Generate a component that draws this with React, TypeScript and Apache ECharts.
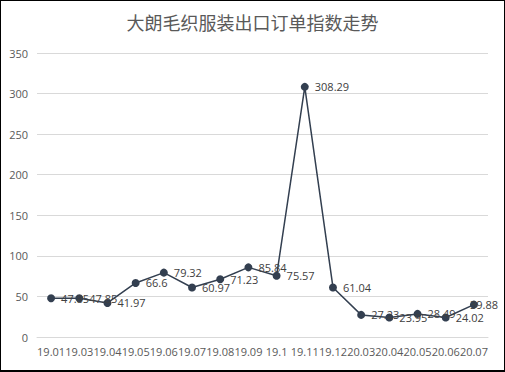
import React, { useEffect, useRef } from "react";
import * as echarts from "echarts";

const categories = ["19.01", "19.03", "19.04", "19.05", "19.06", "19.07", "19.08", "19.09", "19.1", "19.11", "19.12", "20.03", "20.04", "20.05", "20.06", "20.07"];
const values = [47.85, 47.85, 41.97, 66.6, 79.32, 60.97, 71.23, 85.84, 75.57, 308.29, 61.04, 27.23, 23.95, 28.49, 24.02, 39.88];
const yTicks = { min: 0, max: 350, interval: 50 };
const title = "大朗毛织服装出口订单指数走势";

export default function App() {
  const ref = useRef<HTMLDivElement>(null);
  useEffect(() => {
    document.body.style.margin = "0";
    const chart = echarts.init(ref.current!, null, { renderer: "svg" });
    const data = values.map((v, i) =>
      i === values.length - 1 ? { value: v, label: { offset: [-14, 0] } } : v
    );
    chart.setOption({
      animation: false,
      backgroundColor: "#ffffff",
      title: {
        text: title,
        left: "center",
        top: 7,
        textStyle: { fontFamily: "Noto Sans CJK SC", fontSize: 18, fontWeight: "normal", color: "#595959" },
      },
      grid: { left: 36, right: 16, top: 52, bottom: 33, containLabel: false },
      xAxis: {
        type: "category",
        data: categories,
        boundaryGap: true,
        axisLine: { show: true, lineStyle: { color: "#d9d9d9" } },
        axisTick: { show: false },
        axisLabel: { color: "#595959", fontSize: 11, fontFamily: "Open Sans", margin: 9, interval: 0 },
      },
      yAxis: {
        type: "value",
        min: yTicks.min,
        max: yTicks.max,
        interval: yTicks.interval,
        axisLine: { show: false },
        axisTick: { show: false },
        axisLabel: { color: "#595959", fontSize: 11, fontFamily: "Open Sans", margin: 9 },
        splitLine: { lineStyle: { color: "#d9d9d9" } },
      },
      series: [
        {
          type: "line",
          data,
          symbol: "circle",
          symbolSize: 8,
          itemStyle: { color: "#333f50" },
          lineStyle: { color: "#333f50", width: 1.5 },
          label: { show: true, position: "right", color: "#404040", fontSize: 11, fontFamily: "Open Sans", distance: 6 },
        },
      ],
    });
    return () => chart.dispose();
  }, []);
  return (
    <div style={{ position: "absolute", left: 0, top: 0, width: 505, height: 372, boxSizing: "border-box", border: "1px solid #000", borderBottomWidth: 2 }}>
      <div ref={ref} style={{ width: 503, height: 369 }} />
    </div>
  );
}
